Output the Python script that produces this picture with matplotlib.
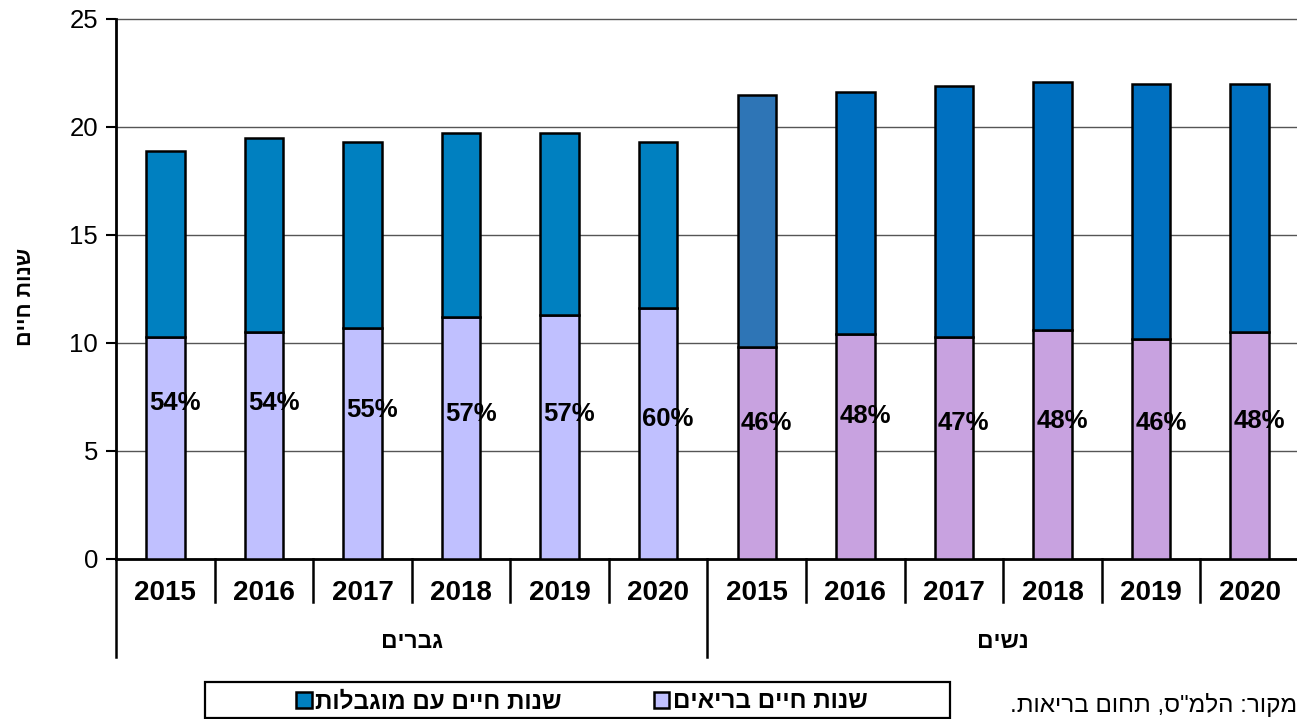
import matplotlib
matplotlib.use('Agg')
import matplotlib.pyplot as plt
from matplotlib.patches import Rectangle

plt.rcParams['font.family'] = ['Liberation Sans', 'DejaVu Sans']

# ---- data ----
years = ['2015', '2016', '2017', '2018', '2019', '2020']
groups = ['גברים', 'נשים']
men_healthy = [10.3, 10.5, 10.7, 11.2, 11.3, 11.6]
men_limited = [8.6, 9.0, 8.6, 8.5, 8.4, 7.7]
women_healthy = [9.8, 10.4, 10.3, 10.6, 10.2, 10.5]
women_limited = [11.7, 11.2, 11.6, 11.5, 11.8, 11.5]
men_pct = [54, 54, 55, 57, 57, 60]
women_pct = [46, 48, 47, 48, 46, 48]
men_pct_y = [7.2, 7.2, 6.9, 6.7, 6.7, 6.5]
women_pct_y = [6.3, 6.6, 6.3, 6.4, 6.3, 6.4]
series_names = ['שנות חיים בריאים', 'שנות חיים עם מוגבלות']
y_title = 'שנות חיים'
source_text = 'מקור: הלמ"ס, תחום בריאות.'


def vis(s):
    """Visual (LTR) order for right-to-left Hebrew text."""
    return s[::-1]


W, H = 1297, 719
fig = plt.figure(figsize=(W / 100, H / 100), dpi=100)
ax = fig.add_axes([116 / W, 1 - 559 / H, 1183 / W, 540 / H])

healthy = men_healthy + women_healthy
limited = men_limited + women_limited
pcts = men_pct + women_pct
pct_y = men_pct_y + women_pct_y
xs = list(range(len(healthy)))

healthy_colors = ['#C0C0FF'] * 6 + ['#C8A2E0'] * 6
limited_colors = ['#0080C0'] * 6 + ['#2E75B6'] + ['#0070C0'] * 5

bw = 0.39
b_h = ax.bar(xs, healthy, width=bw, color=healthy_colors, edgecolor='black',
             linewidth=1.8, zorder=3)
b_l = ax.bar(xs, limited, bottom=healthy, width=bw, color=limited_colors,
             edgecolor='black', linewidth=1.8, zorder=3)

for x, p, yy in zip(xs, pcts, pct_y):
    ax.text(x + 0.1, yy, f'{p}%', ha='center', va='center', fontsize=18.5,
            fontweight='bold', zorder=5)

ax.set_xlim(-0.5, len(xs) - 0.5)
ax.set_ylim(0, 25)
ax.set_yticks(range(0, 26, 5))
ax.yaxis.grid(True, color='#555555', linewidth=1)
for gl in ax.get_ygridlines():
    gl.set_clip_on(False)
ax.set_axisbelow(True)

for s in ['top', 'right']:
    ax.spines[s].set_visible(False)
ax.spines['left'].set_linewidth(2)
ax.spines['bottom'].set_linewidth(2)
ax.tick_params(axis='y', length=7, width=1.5, direction='out', labelsize=18.5, pad=6)

ax.set_xticks(xs)
ax.set_xticklabels(years * 2, fontsize=20, fontweight='bold')
ax.tick_params(axis='x', length=0, pad=15)

tr = ax.get_xaxis_transform()
for i in range(len(xs) + 1):
    L = 0.181 if i % 6 == 0 else 0.08
    ax.plot([i - 0.5, i - 0.5], [0, -L], transform=tr, color='black', lw=1.8,
            clip_on=False)

for gi, g in enumerate(groups):
    ax.text(gi * 6 + 2.5, -0.152, vis(g), transform=tr, ha='center', va='center',
            fontsize=16.5, fontweight='bold')

fig.text(26 / W, 1 - 297 / H, vis(y_title), rotation=90, ha='center', va='center',
         fontsize=15.5, fontweight='bold')

# legend
fig.add_artist(Rectangle((205 / W, 1 - 718 / H), (950 - 205) / W, (718 - 682) / H,
                         transform=fig.transFigure, fill=False, edgecolor='black',
                         linewidth=1.6))
fig.legend(handles=[b_l[0], b_h[0]],
           labels=[vis(series_names[1]), vis(series_names[0])],
           ncol=2, loc='center', bbox_to_anchor=(582 / W, 1 - 702 / H),
           frameon=False, prop=dict(size=17.5, weight='bold'),
           handlelength=0.62, handleheight=0.62, handletextpad=0.15,
           columnspacing=3.8)

fig.text(1010 / W, 1 - 705 / H, vis(source_text), ha='left', va='center',
         fontsize=17.5)

fig.savefig('out.png', dpi=100)
